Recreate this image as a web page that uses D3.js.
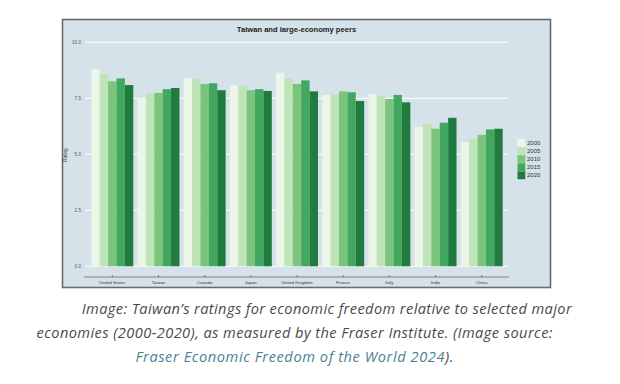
<!DOCTYPE html>
<html>
<head>
<meta charset="utf-8">
<script src="https://cdn.jsdelivr.net/npm/d3@7"></script>
<style>
  body { margin: 0; background: #fff; }
  svg { display: block; }
</style>
</head>
<body>
<div id="wrapper"></div>
<script>
const countries = ["United States", "Taiwan", "Canada", "Japan", "United Kingdom", "France", "Italy", "India", "China"];
const years = ["2000", "2005", "2010", "2015", "2020"];
const ratings2000 = [8.81, 7.50, 8.39, 8.08, 8.64, 7.65, 7.68, 6.23, 5.55];
const ratings2005 = [8.57, 7.72, 8.38, 8.06, 8.39, 7.68, 7.60, 6.35, 5.68];
const ratings2010 = [8.26, 7.74, 8.14, 7.86, 8.14, 7.81, 7.47, 6.14, 5.87];
const ratings2015 = [8.39, 7.91, 8.17, 7.91, 8.30, 7.77, 7.65, 6.41, 6.11];
const ratings2020 = [8.09, 7.96, 7.86, 7.83, 7.81, 7.38, 7.32, 6.63, 6.14];
const yTicks = [0, 2.5, 5, 7.5, 10];
const yearColors = ["#ecf6e8", "#bfe4b8", "#7bc47b", "#43a85f", "#217b3e"];

const series = [ratings2000, ratings2005, ratings2010, ratings2015, ratings2020];
const dataset = countries.map((c, i) => ({
  country: c,
  values: years.map((y, j) => ({ year: y, value: series[j][i] }))
}));

const captionLines = [
  "Image: Taiwan\u2019s ratings for economic freedom relative to selected major",
  "economies (2000-2020), as measured by the Fraser Institute. (Image source:"
];

function drawChart() {
  const width = 620, height = 384;

  const svg = d3.select("#wrapper").append("svg")
    .attr("width", width)
    .attr("height", height);

  // chart panel (screenshot frame)
  svg.append("rect")
    .attr("x", 62.5).attr("y", 19.5)
    .attr("width", 488).attr("height", 268)
    .attr("fill", "#d5e2ea")
    .attr("stroke", "#6b6b6b")
    .attr("stroke-width", 1.6);

  // scales
  const xScale = d3.scaleBand()
    .domain(countries)
    .range([91.3, 502.7])
    .paddingInner(0.091)
    .paddingOuter(0);

  const innerScale = d3.scaleBand()
    .domain(years)
    .range([0, xScale.bandwidth()]);

  const yScale = d3.scaleLinear()
    .domain([0, 10])
    .range([266.3, 42.3]);

  const cScale = d3.scaleOrdinal().domain(years).range(yearColors);

  // gridlines
  svg.append("g")
    .selectAll("line")
    .data(yTicks)
    .join("line")
    .attr("x1", 85).attr("x2", 509)
    .attr("y1", d => yScale(d)).attr("y2", d => yScale(d))
    .attr("stroke", "#f7fafc")
    .attr("stroke-width", 1.3);

  // y tick labels
  const yAxis = svg.append("g")
    .attr("transform", "translate(84,0)")
    .call(d3.axisLeft(yScale).tickValues(yTicks).tickFormat(d3.format(".1f")).tickSize(0).tickPadding(3));
  yAxis.select(".domain").remove();
  yAxis.selectAll("text")
    .attr("font-family", "Liberation Sans, Arial, sans-serif")
    .attr("font-size", 4.6)
    .attr("fill", "#555");

  svg.append("text")
    .attr("transform", "translate(67,155) rotate(-90)")
    .attr("text-anchor", "middle")
    .attr("font-family", "Liberation Sans, Arial, sans-serif")
    .attr("font-size", 4.6)
    .attr("fill", "#444")
    .text("Rating");

  // bars
  const groups = svg.append("g")
    .selectAll("g")
    .data(dataset)
    .join("g")
    .attr("transform", d => `translate(${xScale(d.country)},0)`);

  groups.selectAll("rect")
    .data(d => d.values)
    .join("rect")
    .attr("x", d => innerScale(d.year))
    .attr("y", d => yScale(d.value))
    .attr("width", innerScale.bandwidth())
    .attr("height", d => yScale(0) - yScale(d.value))
    .attr("fill", d => cScale(d.year));

  // x axis
  const xAxis = svg.append("g")
    .attr("transform", "translate(0,277)")
    .call(d3.axisBottom(xScale).tickSizeInner(-2).tickSizeOuter(0).tickPadding(4));
  xAxis.select(".domain").remove();
  xAxis.insert("line", ":first-child")
    .attr("x1", 84).attr("x2", 509)
    .attr("stroke", "#777").attr("stroke-width", 0.9);
  xAxis.selectAll(".tick line").attr("stroke", "#666").attr("stroke-width", 0.8);
  xAxis.selectAll("text")
    .attr("font-family", "Liberation Sans, Arial, sans-serif")
    .attr("font-size", 4.4)
    .attr("fill", "#334");

  // title
  svg.append("text")
    .attr("x", 296.5).attr("y", 31.5)
    .attr("text-anchor", "middle")
    .attr("font-family", "Liberation Sans, Arial, sans-serif")
    .attr("font-weight", "bold")
    .attr("font-size", 7.6)
    .attr("fill", "#222")
    .text("Taiwan and large-economy peers");

  // legend
  const legend = svg.append("g")
    .attr("transform", "translate(517.5,139)")
    .selectAll("g")
    .data(years)
    .join("g")
    .attr("transform", (d, i) => `translate(0,${i * 8.1})`);
  legend.append("rect")
    .attr("width", 7.8).attr("height", 7.8)
    .attr("fill", d => cScale(d));
  legend.append("text")
    .attr("x", 9.5).attr("y", 5.8)
    .attr("font-family", "Liberation Sans, Arial, sans-serif")
    .attr("font-size", 6)
    .attr("fill", "#333")
    .text(d => d);

  // caption
  const caption = svg.append("g")
    .attr("font-family", "'Open Sans', Lato, sans-serif")
    .attr("font-style", "italic")
    .attr("font-size", 14.6)
    .attr("text-anchor", "middle");
  caption.append("text")
    .attr("x", 326.7).attr("y", 314)
    .attr("fill", "#4a4a4a")
    .attr("textLength", 490)
    .attr("lengthAdjust", "spacing")
    .text(captionLines[0]);
  caption.append("text")
    .attr("x", 294.5).attr("y", 338)
    .attr("fill", "#4a4a4a")
    .attr("textLength", 516)
    .attr("lengthAdjust", "spacing")
    .text(captionLines[1]);
  const line3 = caption.append("text")
    .attr("x", 294.5).attr("y", 361.5)
    .attr("textLength", 318)
    .attr("lengthAdjust", "spacing");
  line3.append("tspan").attr("fill", "#4b7f93").text("Fraser Economic Freedom of the World 2024");
  line3.append("tspan").attr("fill", "#4a4a4a").text(").");
}

drawChart();
</script>
</body>
</html>
